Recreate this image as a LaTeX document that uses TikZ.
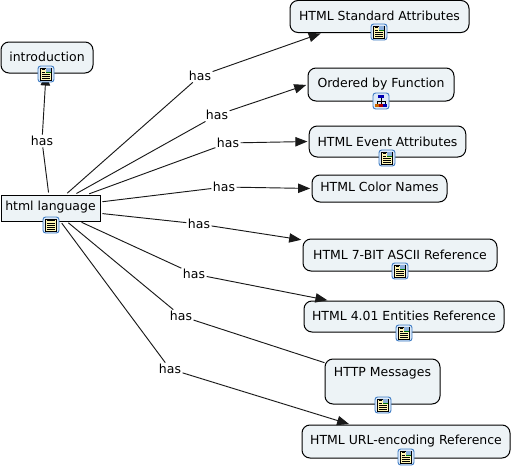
\documentclass[tikz,border=0pt]{standalone}
\usepackage{fontspec}
\setmainfont{DejaVu Sans}
\usetikzlibrary{arrows.meta}
\definecolor{boxfill}{HTML}{EDF3F6}
\definecolor{iconblue}{HTML}{3F7CC4}
\definecolor{iconfill}{HTML}{DCE9F8}
\definecolor{pagefill}{HTML}{FFF6B4}
\begin{document}
\begin{tikzpicture}[
    x=0.75pt,y=-0.75pt,
    concept/.style={draw=black,line width=0.75pt,fill=boxfill,rounded corners=6pt,align=center,
                    font=\fontsize{9.35}{11}\selectfont,inner sep=0pt,text height=8pt,text depth=2pt},
    root/.style={concept,rounded corners=0pt,text height=7pt,text depth=4pt},
    linkword/.style={fill=white,font=\fontsize{9.35}{11}\selectfont,inner sep=1pt},
    arr/.style={-{Triangle[length=9pt,width=7pt]},line width=0.7pt,black!90},
    plainarr/.style={line width=0.7pt,black!90},
    icon/.style={draw=iconblue,line width=0.7pt,fill=iconfill,rounded corners=2pt,
                 minimum size=12pt,inner sep=0pt}]
    \useasboundingbox (0,0) rectangle (512,471);
    % concepts
    \node[root,minimum width=74.25pt,minimum height=19.5pt] (html) at (50.5,208) {html language};
    \node[concept,minimum width=69pt,minimum height=23.25pt] (intro) at (47,57.5) {introduction};
    \node[concept,minimum width=134.25pt,minimum height=24pt] (std) at (379.5,16.5) {HTML Standard Attributes};
    \node[concept,text height=7pt,minimum width=109.5pt,minimum height=24.75pt] (ordered) at (381,84.5) {Ordered by Function};
    \node[concept,text height=9pt,minimum width=117.4pt,minimum height=23.25pt] (event) at (387.5,141.5) {HTML Event Attributes};
    \node[concept,text height=7pt,minimum width=101.25pt,minimum height=20.25pt] (color) at (379.5,188.5) {HTML Color Names};
    \node[concept,minimum width=145.5pt,minimum height=24pt] (ascii) at (400,255) {HTML 7-BIT ASCII Reference};
    \node[concept,minimum width=150pt,minimum height=23.25pt] (entities) at (404,316.5) {HTML 4.01 Entities Reference};
    \node[concept,minimum width=86.25pt,text height=10.5pt,text depth=17.25pt,inner ysep=3pt] (http) at (382.5,381.5) {HTTP Messages};
    \node[concept,text height=7pt,minimum width=156pt,minimum height=24.75pt] (url) at (406,441.5) {HTML URL-encoding Reference};
    % link words
    \node[linkword] (has0) at (42,141) {has};
    \node[linkword] (has1) at (200,76) {has};
    \node[linkword] (has2) at (217,115) {has};
    \node[linkword] (has3) at (228,143) {has};
    \node[linkword] (has4) at (224,187) {has};
    \node[linkword] (has5) at (199,224) {has};
    \node[linkword] (has6) at (194,274) {has};
    \node[linkword] (has7) at (181,316) {has};
    \node[linkword] (has8) at (170,369) {has};
    % connectors
    \foreach \w in {has0,has1,has2,has3,has4,has5,has6,has7,has8}
        \draw[plainarr,shorten <=1.5pt] (html) -- (\w);
    \draw[arr] (has0) -- (intro);
    \draw[arr,shorten >=1pt] (has1) -- (std.196);
    \draw[arr,shorten >=1pt] (has2) -- (ordered.west);
    \draw[arr,shorten >=1pt] (has3) -- (event.west);
    \draw[arr,shorten >=1pt] (has4) -- (color.west);
    \draw[arr,shorten >=1pt] (has5) -- (ascii);
    \draw[arr,shorten >=1pt] (has6) -- (entities.168);
    \draw[plainarr] (has7) -- (http);
    \draw[arr,shorten >=1pt] (has8) -- (url.163);
    % icons
    \node[icon] (i0) at (46,74) {};
    \node[icon] (i1) at (379,32) {};
    \node[icon] (i3) at (387,158) {};
    \node[icon] (i5) at (400,271) {};
    \node[icon] (i6) at (404,333) {};
    \node[icon] (i7) at (383,405) {};
    \node[icon] (i8) at (406,457) {};
    \node[icon] (i9) at (51,225) {};
    \node[icon] (i2) at (381,101) {};
    \foreach \i in {i0,i1,i3,i5,i6,i7,i8,i9} {
        \draw[fill=pagefill,line width=0.5pt] ([shift={(-4pt,4.6pt)}]\i.center) rectangle ([shift={(4pt,-4.6pt)}]\i.center);
        \foreach \l in {-3.2,-1.6,0}
            \draw[line width=0.5pt] ([shift={(-2.8pt,\l pt)}]\i.center) -- ([shift={(2.8pt,\l pt)}]\i.center);
    }
    \foreach \i in {i0,i1,i3,i5,i6,i7,i8} {
        \foreach \l in {3.2,1.6}
            \draw[line width=0.5pt] ([shift={(-2.8pt,\l pt)}]\i.center) -- ([shift={(-0.6pt,\l pt)}]\i.center);
        \fill[iconblue!60!white] ([shift={(-0.2pt,4.2pt)}]\i.center) rectangle ([shift={(3.6pt,0.4pt)}]\i.center);
        \fill[green!45!black] ([shift={(-0.2pt,1.6pt)}]\i.center) -- ([shift={(3.6pt,1.6pt)}]\i.center) -- ([shift={(3.6pt,0.4pt)}]\i.center) -- ([shift={(-0.2pt,0.4pt)}]\i.center) -- cycle;
    }
    \foreach \l in {3.2,1.6}
        \draw[line width=0.5pt] ([shift={(-2.8pt,\l pt)}]i9.center) -- ([shift={(2.8pt,\l pt)}]i9.center);
    \draw[line width=0.4pt] ([shift={(0pt,3pt)}]i2.center) -- ([shift={(0pt,-3pt)}]i2.center)
        ([shift={(-3pt,0pt)}]i2.center) -- ([shift={(3pt,0pt)}]i2.center)
        ([shift={(-3pt,0pt)}]i2.center) -- ([shift={(-3pt,-3pt)}]i2.center)
        ([shift={(3pt,0pt)}]i2.center) -- ([shift={(3pt,-3pt)}]i2.center);
    \fill[blue!70!black] ([shift={(-2pt,4.4pt)}]i2.center) rectangle ([shift={(2pt,2.4pt)}]i2.center);
    \fill[orange!80!black] ([shift={(-4.2pt,-2.4pt)}]i2.center) rectangle ([shift={(-1.8pt,-4.4pt)}]i2.center);
    \fill[red!70!black] ([shift={(-1.2pt,-2.4pt)}]i2.center) rectangle ([shift={(1.2pt,-4.4pt)}]i2.center);
    \fill[blue!70!black] ([shift={(1.8pt,-2.4pt)}]i2.center) rectangle ([shift={(4.2pt,-4.4pt)}]i2.center);
\end{tikzpicture}
\end{document}
